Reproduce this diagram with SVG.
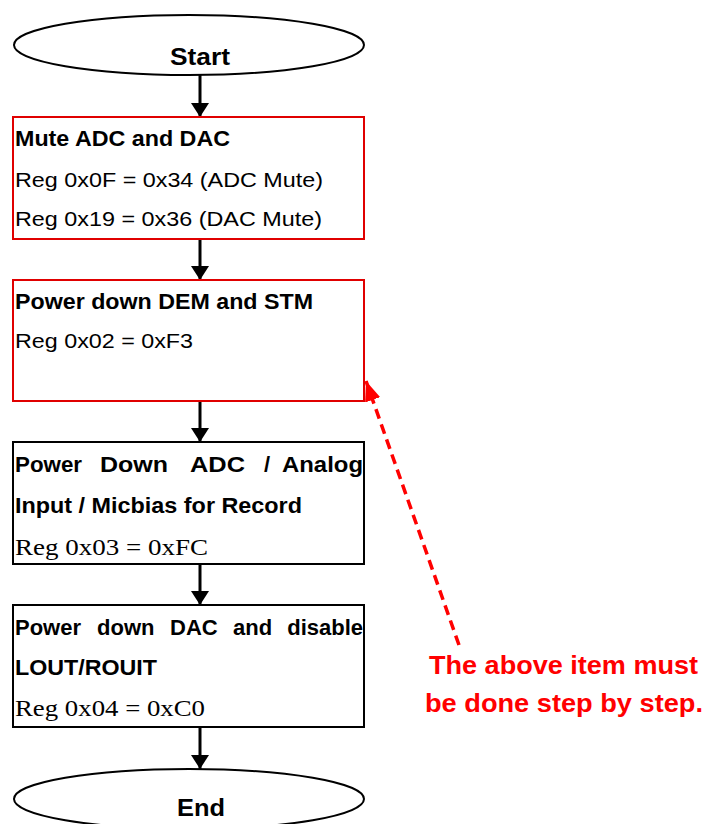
<svg xmlns="http://www.w3.org/2000/svg" width="706" height="824" viewBox="0 0 706 824">
<style>
.term{fill:#fff;stroke:#000;stroke-width:2}
.boxr{fill:#fff;stroke:#e00000;stroke-width:2}
.boxk{fill:#fff;stroke:#000;stroke-width:2}
.b{font-family:"Liberation Sans",Arial,sans-serif;font-weight:bold;font-size:22px;fill:#000}
.t{font-family:"Liberation Sans",Arial,sans-serif;font-weight:bold;font-size:23px;fill:#000}
.r{font-family:"Liberation Sans",Arial,sans-serif;font-size:21px;fill:#000}
.s{font-family:"Liberation Serif","Times New Roman",serif;font-size:24px;fill:#000}
.red{font-family:"Liberation Sans",Arial,sans-serif;font-weight:bold;font-size:25px;fill:#ff0000}
.flow{stroke:#000;stroke-width:3;fill:none}
.note{stroke:#ff0000;stroke-width:3.5;fill:none;stroke-dasharray:10 6}
</style>
<defs>
<marker id="ah" markerUnits="userSpaceOnUse" markerWidth="18" markerHeight="18" viewBox="0 0 14 18" refX="14" refY="9" orient="auto">
<path d="M0,0 L14,9 L0,18 Z" fill="#000"/>
</marker>
<marker id="ahr" markerUnits="userSpaceOnUse" markerWidth="20" markerHeight="18" viewBox="0 0 20 18" refX="20" refY="9" orient="auto">
<path d="M0,1 L20,9 L0,17 Z" fill="#ff0000"/>
</marker>
</defs>

<g id="connectors">
<line class="flow" x1="200" y1="75" x2="200" y2="117" marker-end="url(#ah)"/>
<line class="flow" x1="200" y1="239" x2="200" y2="280" marker-end="url(#ah)"/>
<line class="flow" x1="200" y1="401" x2="200" y2="442" marker-end="url(#ah)"/>
<line class="flow" x1="200" y1="564" x2="200" y2="605" marker-end="url(#ah)"/>
<line class="flow" x1="200" y1="727" x2="200" y2="769" marker-end="url(#ah)"/>
<line class="note" x1="459" y1="645" x2="366" y2="381" marker-end="url(#ahr)"/>
</g>

<g id="start">
<ellipse class="term" cx="189" cy="45" rx="175" ry="30"/>
<text class="t" x="170" y="65" textLength="60" lengthAdjust="spacingAndGlyphs">Start</text>
</g>

<g id="mute">
<rect class="boxr" x="13" y="117" width="351" height="122"/>
<text class="b" x="15" y="146" textLength="215" lengthAdjust="spacingAndGlyphs">Mute ADC and DAC</text>
<text class="r" x="15" y="187" textLength="308" lengthAdjust="spacingAndGlyphs">Reg 0x0F = 0x34 (ADC Mute)</text>
<text class="r" x="15" y="226" textLength="307" lengthAdjust="spacingAndGlyphs">Reg 0x19 = 0x36 (DAC Mute)</text>
</g>

<g id="powerdown-dem">
<rect class="boxr" x="13" y="280" width="351" height="121"/>
<text class="b" x="15" y="309" textLength="298" lengthAdjust="spacingAndGlyphs">Power down DEM and STM</text>
<text class="r" x="15" y="348" textLength="178" lengthAdjust="spacingAndGlyphs">Reg 0x02 = 0xF3</text>
</g>

<g id="powerdown-adc">
<rect class="boxk" x="13" y="442" width="351" height="122"/>
<text class="b" x="15" y="472" textLength="67" lengthAdjust="spacingAndGlyphs">Power</text>
<text class="b" x="100" y="472" textLength="68" lengthAdjust="spacingAndGlyphs">Down</text>
<text class="b" x="190" y="472" textLength="55" lengthAdjust="spacingAndGlyphs">ADC</text>
<text class="b" x="264" y="472">/</text>
<text class="b" x="282" y="472" textLength="81" lengthAdjust="spacingAndGlyphs">Analog</text>
<text class="b" x="15" y="513" textLength="287" lengthAdjust="spacingAndGlyphs">Input / Micbias for Record</text>
<text class="s" x="15" y="555" textLength="193" lengthAdjust="spacingAndGlyphs">Reg 0x03 = 0xFC</text>
</g>

<g id="powerdown-dac">
<rect class="boxk" x="13" y="605" width="351" height="122"/>
<text class="b" x="15" y="635">Power</text>
<text class="b" x="97" y="635">down</text>
<text class="b" x="170" y="635">DAC</text>
<text class="b" x="233" y="635">and</text>
<text class="b" x="363" y="635" text-anchor="end">disable</text>
<text class="b" x="15" y="675" textLength="142" lengthAdjust="spacingAndGlyphs">LOUT/ROUIT</text>
<text class="s" x="15" y="716" textLength="190" lengthAdjust="spacingAndGlyphs">Reg 0x04 = 0xC0</text>
</g>

<g id="end">
<ellipse class="term" cx="189" cy="799" rx="175" ry="30"/>
<text class="t" x="177" y="816" textLength="48" lengthAdjust="spacingAndGlyphs">End</text>
</g>

<g id="note">
<text class="red" x="429" y="674" textLength="269" lengthAdjust="spacingAndGlyphs">The above item must</text>
<text class="red" x="425" y="712" textLength="278" lengthAdjust="spacingAndGlyphs">be done step by step.</text>
</g>
</svg>
